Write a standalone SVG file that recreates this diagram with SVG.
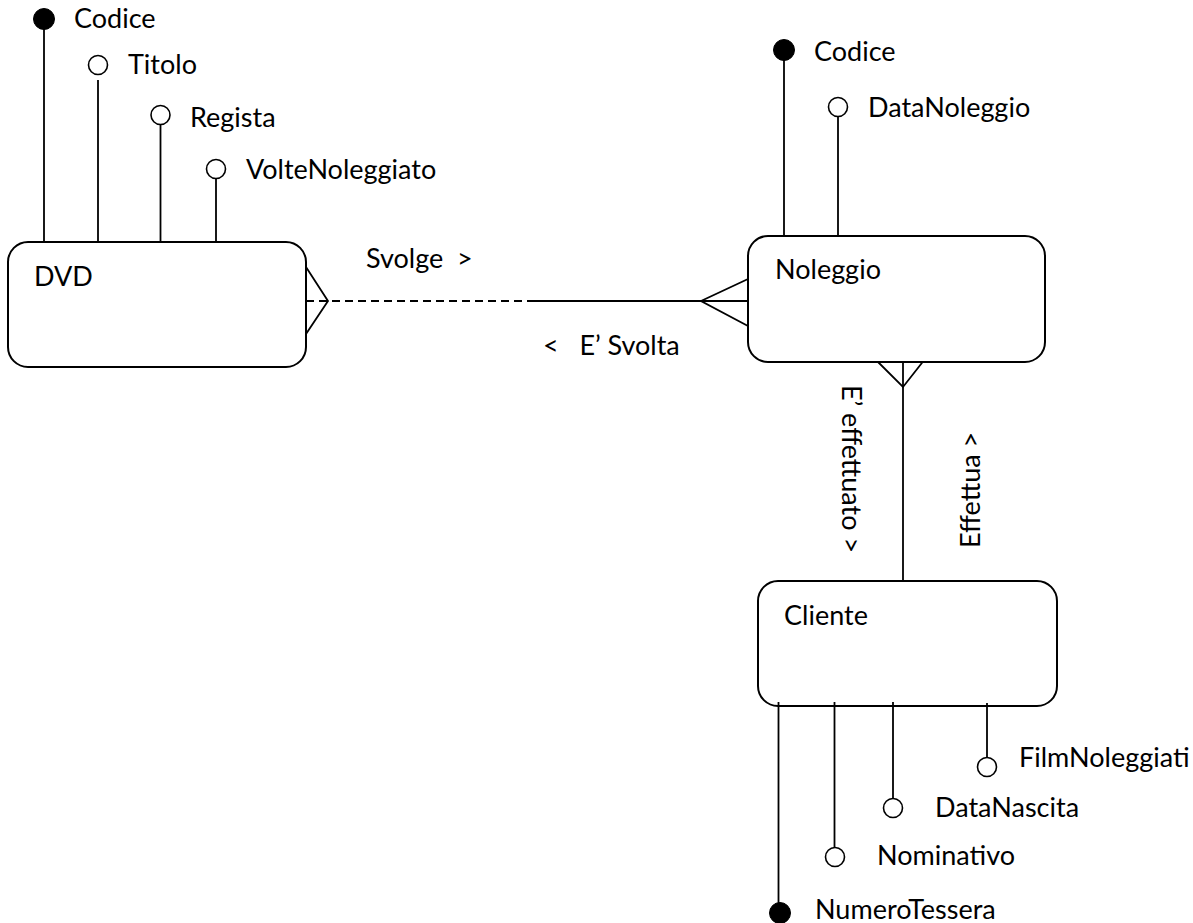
<svg xmlns="http://www.w3.org/2000/svg" width="1193" height="923" viewBox="0 0 1193 923">
<style>
  .box { fill: #ffffff; stroke: #000000; stroke-width: 2; }
  .ln { stroke: #000000; stroke-width: 1.8; fill: none; }
  .dash { stroke: #000000; stroke-width: 1.8; fill: none; stroke-dasharray: 8 5; }
  .key { fill: #000000; stroke: #000000; stroke-width: 1; }
  .att { fill: #ffffff; stroke: #000000; stroke-width: 1.6; }
  text { font-family: Lato, "Open Sans", "Liberation Sans", sans-serif; font-size: 27px; fill: #000000; white-space: pre; }
</style>
<rect width="1193" height="923" fill="#ffffff"/>

<g id="connectors">
  <!-- DVD - Noleggio -->
  <polyline class="ln" points="306,267 328,301 306,334"/>
  <line class="dash" x1="306" y1="301" x2="532" y2="301"/>
  <line class="ln" x1="532" y1="301" x2="748" y2="301"/>
  <polyline class="ln" points="748,279 701,301 748,326"/>
  <!-- Noleggio - Cliente -->
  <line class="ln" x1="903" y1="362" x2="903" y2="581"/>
  <polyline class="ln" points="873,357 903,387 925,359"/>
  <text x="366" y="268" xml:space="preserve">Svolge  &gt;</text>
  <text x="543" y="355" xml:space="preserve">&lt;   E’ Svolta</text>
  <text transform="translate(842,385) rotate(90)">E’ effettuato &gt;</text>
  <text transform="translate(980,548) rotate(-90)">Effettua &gt;</text>
</g>

<g id="dvd">
  <line class="ln" x1="44" y1="19" x2="44" y2="242"/>
  <circle class="key" cx="44" cy="19" r="10.5"/>
  <text x="74" y="28">Codice</text>
  <line class="ln" x1="98" y1="80" x2="98" y2="242"/>
  <circle class="att" cx="98" cy="65" r="9.5"/>
  <text x="128" y="74">Titolo</text>
  <line class="ln" x1="160.5" y1="124" x2="160.5" y2="242"/>
  <circle class="att" cx="160.5" cy="115" r="9.5"/>
  <text x="190" y="127">Regista</text>
  <line class="ln" x1="216" y1="178" x2="216" y2="242"/>
  <circle class="att" cx="216" cy="169" r="9.5"/>
  <text x="246" y="179">VolteNoleggiato</text>
  <rect class="box" x="8" y="242" width="298" height="125" rx="20" ry="20"/>
  <text x="34" y="286">DVD</text>
</g>

<g id="noleggio">
  <line class="ln" x1="784" y1="50" x2="784" y2="236"/>
  <circle class="key" cx="784" cy="50" r="10.5"/>
  <text x="814" y="61">Codice</text>
  <line class="ln" x1="838" y1="116" x2="838" y2="236"/>
  <circle class="att" cx="838" cy="107" r="9.5"/>
  <text x="868" y="117">DataNoleggio</text>
  <rect class="box" x="748" y="236" width="297" height="126" rx="20" ry="20"/>
  <text x="775" y="279">Noleggio</text>
</g>

<g id="cliente">
  <rect class="box" x="758" y="581" width="299" height="125" rx="20" ry="20"/>
  <text x="784" y="625">Cliente</text>
  <line class="ln" x1="778.5" y1="702" x2="778.5" y2="912"/>
  <circle class="key" cx="780" cy="913" r="10.5"/>
  <text x="815" y="919">NumeroTessera</text>
  <line class="ln" x1="834.5" y1="702" x2="834.5" y2="848"/>
  <circle class="att" cx="835" cy="857" r="9.5"/>
  <text x="877" y="865">Nominativo</text>
  <line class="ln" x1="893" y1="702" x2="893" y2="799"/>
  <circle class="att" cx="893" cy="808" r="9.5"/>
  <text x="935" y="817">DataNascita</text>
  <line class="ln" x1="987" y1="703" x2="987" y2="758"/>
  <circle class="att" cx="987" cy="767" r="9.5"/>
  <text x="1019" y="767">FilmNoleggiati</text>
</g>
</svg>
